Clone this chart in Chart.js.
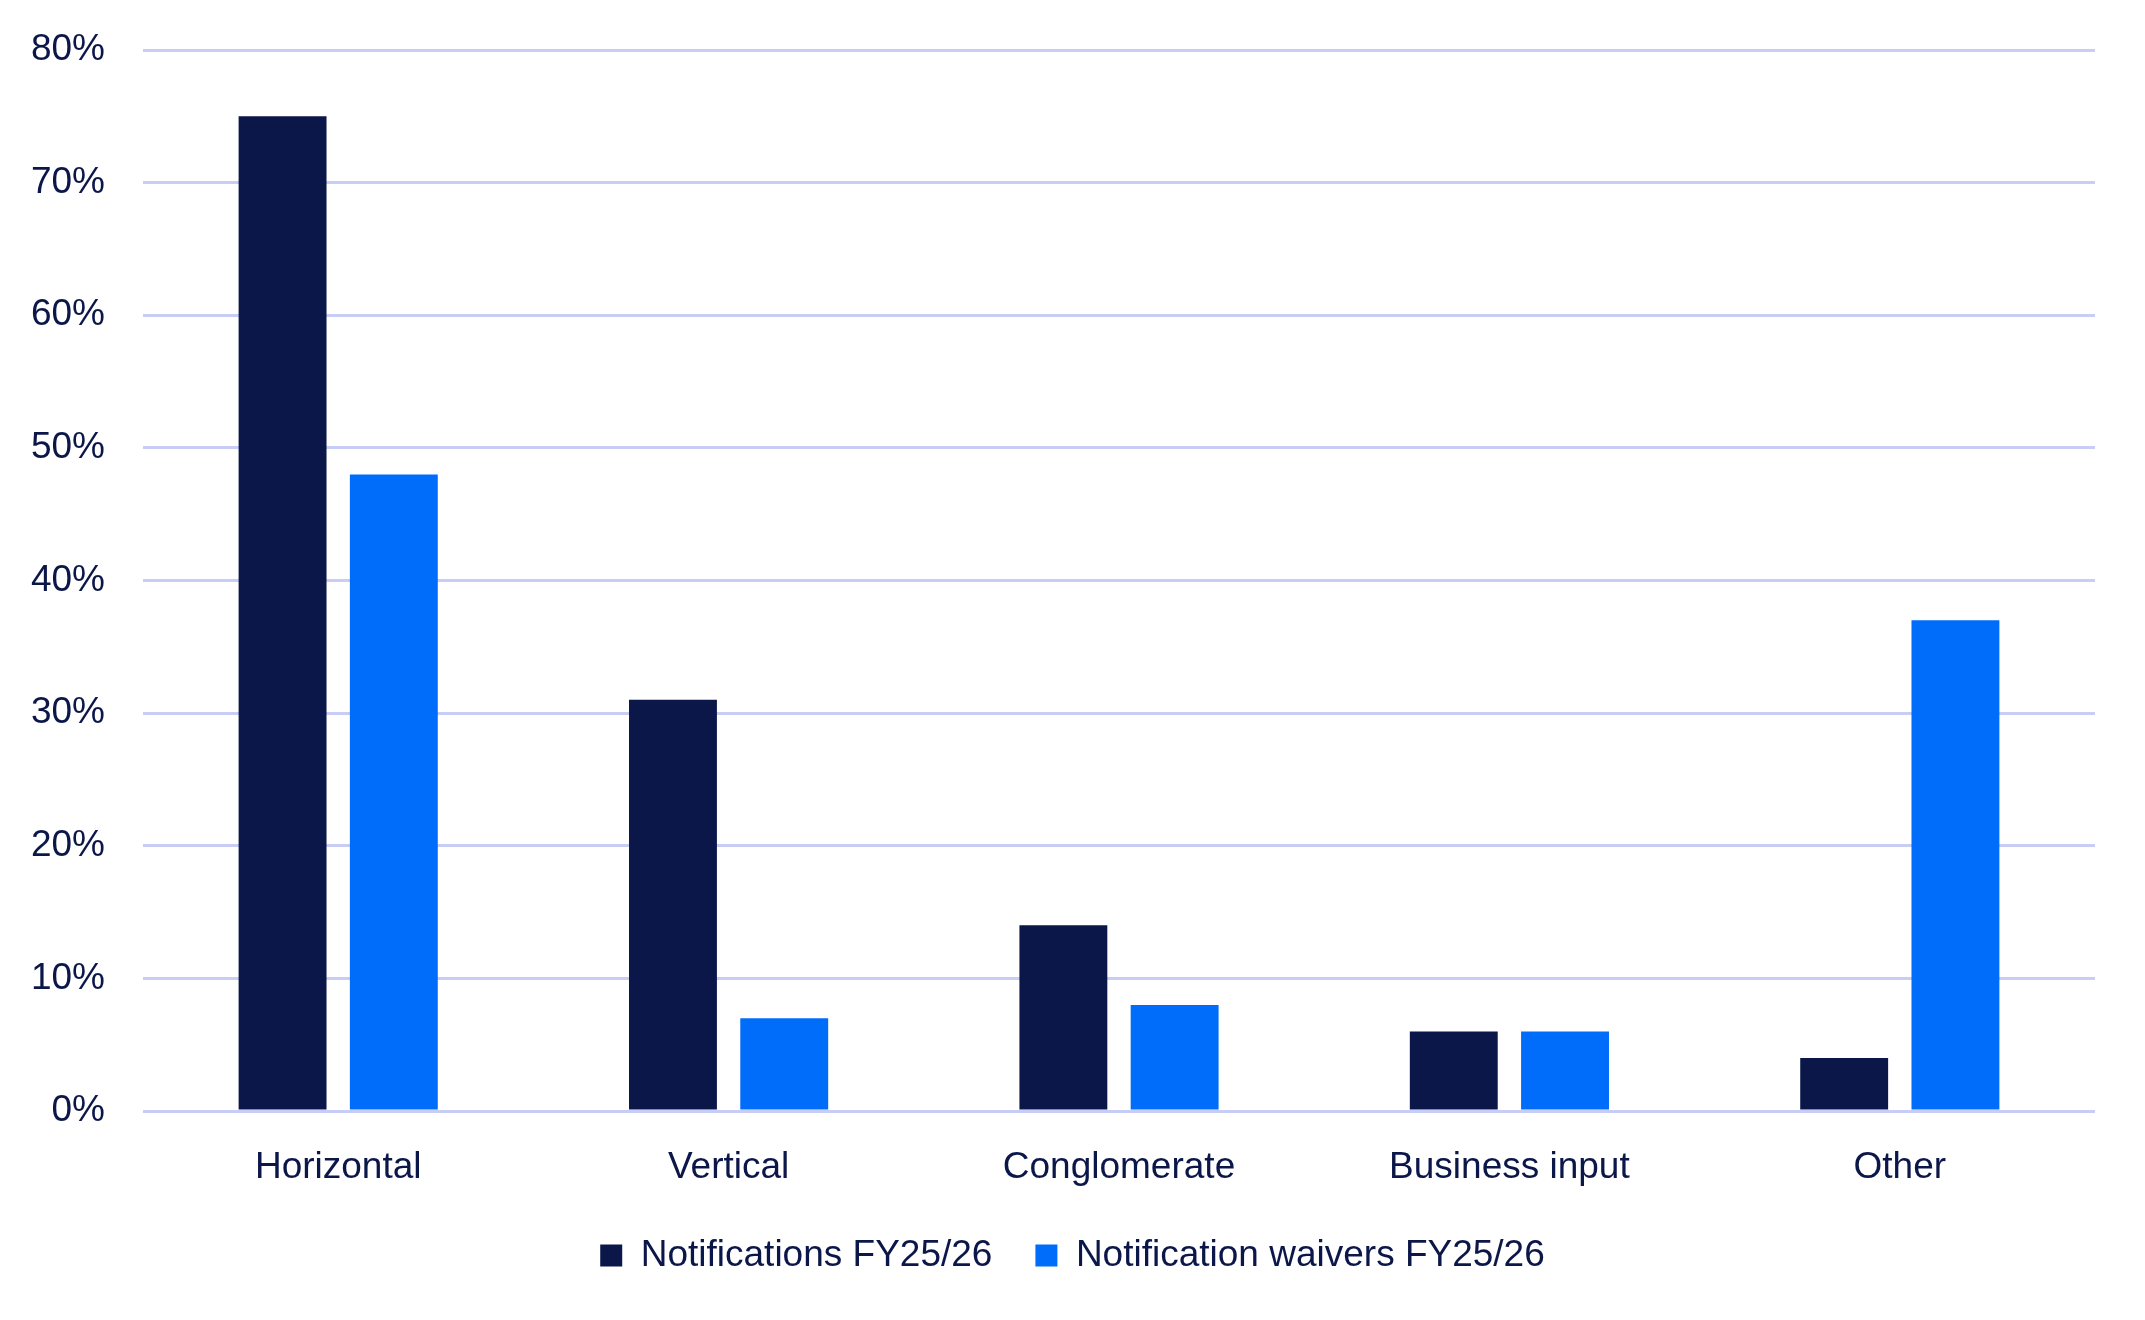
<!DOCTYPE html>
<html>
<head>
<meta charset="utf-8">
<title>Notifications by merger type</title>
<script src="https://cdn.jsdelivr.net/npm/chart.js@4/dist/chart.umd.min.js"></script>
<style>
    body { margin: 0; background: #ffffff; }
    #chart { display: block; }
</style>
</head>
<body>
<canvas id="chart" width="2145" height="1320"></canvas>
<script>
const NAVY = "#0b1649";
const BLUE = "#006cfa";
const GRID = "#c8cdf5";

const categories = ["Horizontal", "Vertical", "Conglomerate", "Business input", "Other"];
const notifications = [75, 31, 14, 6, 4];      // Notifications FY25/26 (%)
const waivers = [48, 7, 8, 6, 37];             // Notification waivers FY25/26 (%)
const yTicks = [0, 10, 20, 30, 40, 50, 60, 70, 80];

Chart.defaults.font.family = "'Liberation Sans', Arial, sans-serif";
Chart.defaults.font.size = 37;
Chart.defaults.color = NAVY;

const ctx = document.getElementById("chart").getContext("2d");
new Chart(ctx, {
    type: "bar",
    data: {
        labels: categories,
        datasets: [{
            label: "Notifications FY25/26",
            data: notifications,
            backgroundColor: NAVY,
            categoryPercentage: 0.57,
            barPercentage: 0.79
        }, {
            label: "Notification waivers FY25/26",
            data: waivers,
            backgroundColor: BLUE,
            categoryPercentage: 0.57,
            barPercentage: 0.79
        }]
    },
    options: {
        responsive: false,
        devicePixelRatio: 1,
        animation: false,
        layout: {
            padding: { top: 50, right: 0, bottom: 36, left: 0 }
        },
        scales: {
            x: {
                grid: { display: false },
                border: { display: false },
                ticks: { padding: 27, color: NAVY },
                afterFit: (scale) => { scale.height = 83; }
            },
            y: {
                min: 0,
                max: 80,
                afterBuildTicks: (scale) => {
                    scale.ticks = yTicks.map(v => ({ value: v }));
                },
                // invisible tick marks give the gap between labels and grid
                // (ticks.padding would also push the plot top down)
                grid: { color: GRID, lineWidth: 3, drawTicks: true, tickLength: 38, tickColor: "rgba(0,0,0,0)" },
                border: { display: false },
                ticks: {
                    padding: 0,
                    color: NAVY,
                    callback: (v) => v + "%"
                },
                afterFit: (scale) => { scale.width = 143; }
            },
            // empty strip on the right so the plot ends where the original does
            side: {
                position: "right",
                grid: { display: false },
                border: { display: false },
                ticks: { display: false },
                afterFit: (scale) => { scale.width = 50; }
            }
        },
        plugins: {
            legend: {
                position: "bottom",
                labels: {
                    boxWidth: 22,
                    boxHeight: 22,
                    padding: 43,
                    color: NAVY,
                    font: { size: 37 }
                }
            },
            tooltip: { enabled: false }
        }
    }
});
</script>
</body>
</html>
